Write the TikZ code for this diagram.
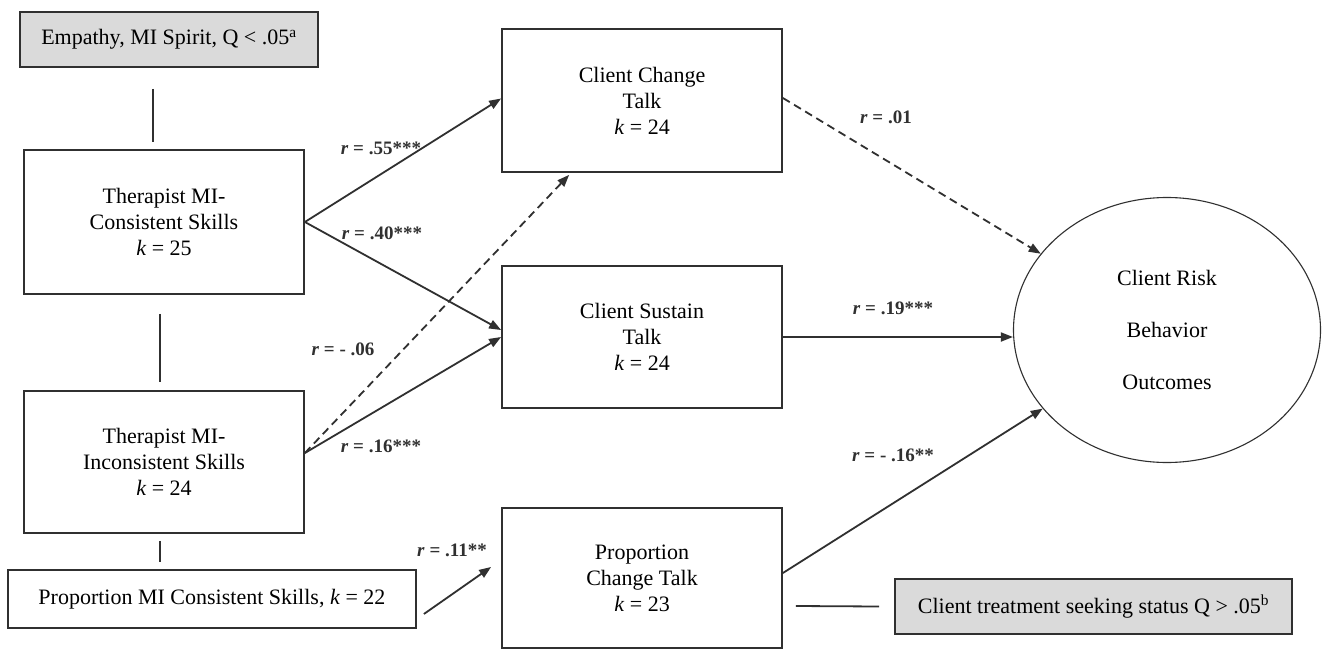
\documentclass[tikz,border=0pt]{standalone}
\usepackage{fontspec}
\setmainfont{Liberation Serif}
\usetikzlibrary{arrows.meta,calc,shapes.geometric}
\definecolor{ink}{HTML}{303030}
\definecolor{shade}{HTML}{DADADA}
\newcommand{\boxfont}{\fontsize{22}{26}\selectfont}
\newcommand{\labfont}{\fontsize{19}{22}\selectfont\bfseries}
\newcommand{\rr}{\textit{r}}
\newcommand{\kk}{\textit{k}}

\begin{document}
\begin{tikzpicture}[x=1pt,y=-1pt,
  box/.style={draw=ink,line width=1.8pt,fill=white,inner sep=0pt,align=center,font=\boxfont},
  greybox/.style={box,fill=shade},
  oval/.style={ellipse,draw=ink,line width=1.1pt,fill=white,inner sep=0pt,align=center,font=\boxfont},
  lab/.style={inner sep=0pt,font=\labfont,text=ink},
  link/.style={draw=ink,line width=1.8pt},
  arr/.style={link,-{Triangle[length=12pt,width=9pt]}},
  darr/.style={arr,dash pattern=on 8pt off 5pt}]

% canvas
\fill[white] (0,0) rectangle (1325,650);
\useasboundingbox (0,0) rectangle (1325,650);

% left column
\node[greybox,minimum width=298pt,minimum height=55pt] (emp) at (169,39.5)
  {Empathy, MI Spirit, Q < .05\textsuperscript{a}};
\node[box,minimum width=280pt,minimum height=144pt] (tc) at (164,222)
  {Therapist MI-\\Consistent Skills\\\kk{} = 25};
\node[box,minimum width=280pt,minimum height=142pt] (ti) at (164,462)
  {Therapist MI-\\Inconsistent Skills\\\kk{} = 24};
\node[box,minimum width=408pt,minimum height=58pt] (pmi) at (212,599)
  {Proportion MI Consistent Skills, \kk{} = 22};

% middle column
\node[box,minimum width=280pt,minimum height=143pt] (cct) at (642,100.5)
  {Client Change\\Talk\\\kk{} = 24};
\node[box,minimum width=280pt,minimum height=142pt] (cst) at (642,337)
  {Client Sustain\\Talk\\\kk{} = 24};
\node[box,minimum width=280pt,minimum height=140pt] (pct) at (642,578)
  {Proportion\\Change Talk\\\kk{} = 23};

% outcome and moderator
\node[oval,minimum width=307pt,minimum height=265pt] (out) at (1167,330)
  {Client Risk\\[26pt]Behavior\\[26pt]Outcomes};
\node[greybox,minimum width=397pt,minimum height=55pt] (trt) at (1093.5,606.5)
  {Client treatment seeking status Q > .05\textsuperscript{b}};

% moderator ties
\draw[link] ($(emp.south)+(-16,21)$) -- ($(tc.north)+(-11,-7)$);
\draw[link] ($(tc.south)+(-4,19)$) -- ($(ti.north)+(-4,-8)$);
\draw[link] ($(ti.south)+(-4,7)$) -- ($(pmi.north)+(-52,-7)$);
\draw[link] ($(pct.east)+(13,28)$) coordinate (tieA) -- ($(trt.west)+(-15,0)$) coordinate (tieB);

% paths
\coordinate (tiout) at ($(ti.east)+(0,-9)$);
\draw[arr] (tc.east) -- ($(cct.west)+(0,-2)$);
\draw[arr] (tc.east) -- ($(cst.west)+(0,-7)$);
\draw[arr] (tiout) -- (cst.west);
\draw[darr] (tiout) -- ($(cct.south west)+(68,2)$);
\draw[darr] ($(cct.east)+(0,-2.5)$) -- (out);
\draw[arr] (cst.east) -- (cst.east -| out.west);
\draw[arr] ($(pct.east)+(0,-5)$) -- (out);
\draw[arr] ($(pmi.east)+(7,15)$) coordinate (pmiA) -- ($(pct.west)+(-10,-11)$) coordinate (pmiB);

% coefficients
\node[lab] (l55) at (381,148) {\rr{} = .55***};
\node[lab] (l40) at (382,233) {\rr{} = .40***};
\node[lab] (l06) at (343,349) {\rr{} = - .06};
\node[lab] (l16) at (381,446) {\rr{} = .16***};
\node[lab] (l11) at (452,550) {\rr{} = .11**};
\node[lab] (l01) at (886,117) {\rr{} = .01};
\node[lab] (l19) at (893,308) {\rr{} = .19***};
\node[lab] (lm16) at (893,455) {\rr{} = - .16**};
\end{tikzpicture}
\end{document}
